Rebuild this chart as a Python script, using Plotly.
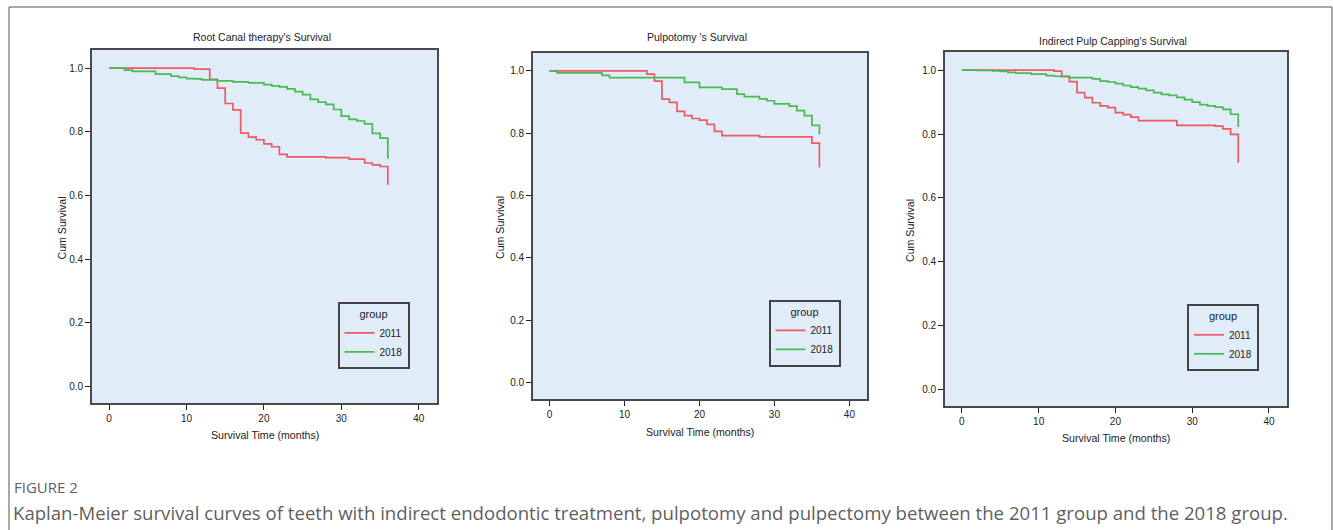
import plotly.graph_objects as go

W, H = 1333, 530

# ---------------- data ----------------
panel_titles = ["Root Canal therapy's Survival", "Pulpotomy 's Survival", "Indirect Pulp Capping's Survival"]
group_labels = ["2011", "2018"]
x_ticks = [0, 10, 20, 30, 40]
y_ticks = [0.0, 0.2, 0.4, 0.6, 0.8, 1.0]

rct_2011_months = [0, 11, 13, 14, 15, 16, 17, 18, 19, 20, 21, 22, 23, 28, 31, 33, 34, 35, 36]
rct_2011_surv = [1.0, 0.997, 0.965, 0.937, 0.889, 0.869, 0.796, 0.783, 0.775, 0.762, 0.753, 0.729, 0.721,
                 0.719, 0.714, 0.702, 0.696, 0.691, 0.634]
rct_2018_months = [0, 2, 3, 6, 8, 9, 10, 11, 12, 14, 16, 18, 20, 21, 22, 23, 24, 25, 26, 27, 28, 29, 30,
                   31, 32, 33, 34, 35, 36]
rct_2018_surv = [1.0, 0.994, 0.990, 0.981, 0.975, 0.971, 0.967, 0.966, 0.963, 0.960, 0.957, 0.954, 0.948,
                 0.944, 0.941, 0.935, 0.926, 0.917, 0.902, 0.893, 0.886, 0.870, 0.849, 0.839, 0.834, 0.825,
                 0.795, 0.780, 0.715]

pulp_2011_months = [0, 13, 14, 15, 16, 17, 18, 19, 20, 21, 22, 23, 28, 35, 36]
pulp_2011_surv = [1.0, 0.989, 0.967, 0.909, 0.899, 0.870, 0.856, 0.847, 0.842, 0.828, 0.806, 0.792, 0.788,
                  0.768, 0.690]
pulp_2018_months = [0, 1, 7, 8, 18, 20, 23, 25, 26, 28, 29, 30, 32, 33, 34, 35, 36]
pulp_2018_surv = [1.0, 0.993, 0.985, 0.978, 0.963, 0.947, 0.941, 0.925, 0.917, 0.910, 0.904, 0.894, 0.887,
                  0.872, 0.856, 0.825, 0.796]

ipc_2011_months = [0, 12, 13, 14, 15, 16, 17, 18, 19, 20, 21, 22, 23, 28, 33, 34, 35, 36]
ipc_2011_surv = [1.0, 0.997, 0.980, 0.964, 0.930, 0.914, 0.898, 0.888, 0.883, 0.867, 0.861, 0.853, 0.842,
                 0.827, 0.825, 0.816, 0.799, 0.710]
ipc_2018_months = [0, 2, 4, 5, 6, 7, 9, 11, 12, 14, 17, 18, 19, 20, 21, 22, 23, 24, 25, 26, 27, 28, 29, 30,
                   31, 32, 33, 34, 35, 36]
ipc_2018_surv = [1.0, 0.999, 0.998, 0.996, 0.993, 0.991, 0.988, 0.983, 0.981, 0.977, 0.973, 0.966, 0.963,
                 0.958, 0.952, 0.947, 0.942, 0.937, 0.930, 0.924, 0.921, 0.915, 0.908, 0.900, 0.892, 0.888,
                 0.884, 0.877, 0.862, 0.822]

figure_label = "FIGURE 2"
caption = ("Kaplan-Meier survival curves of teeth with indirect endodontic treatment, pulpotomy and "
           "pulpectomy between the 2011 group and the 2018 group.")

# ---------------- layout (pixel boxes of each plot area) ----------------
# (left, right, top, bottom) in pixels
boxes = [(92, 437, 50, 403), (533, 867, 53, 399), (945, 1287, 52, 406)]
title_y = [37, 37, 41]
xtitle_y = [435, 432, 438]
ytitle_x = [62, 500, 910]
legend_center = [(371.5, 334), (802.5, 331.5), (1221, 336)]
LEG_W, LEG_H = 68, 64

RED = "#ec5a62"
GREEN = "#48ba51"
BG = "#e1ecf9"
FONT = "Liberation Sans, Arial, sans-serif"


def px_x(p):
    return p / W


def px_y(p):
    return 1 - p / H


series = [
    [(rct_2011_months, rct_2011_surv), (rct_2018_months, rct_2018_surv)],
    [(pulp_2011_months, pulp_2011_surv), (pulp_2018_months, pulp_2018_surv)],
    [(ipc_2011_months, ipc_2011_surv), (ipc_2018_months, ipc_2018_surv)],
]

fig = go.Figure()
annotations = []
layout_axes = {}

for i, (box, data) in enumerate(zip(boxes, series)):
    n = "" if i == 0 else str(i + 1)
    legend_name = "legend" if i == 0 else f"legend{i + 1}"
    for (months, surv), label, color in zip(data, group_labels, [RED, GREEN]):
        fig.add_trace(go.Scatter(
            x=months, y=surv, mode="lines", line_shape="hv",
            line=dict(color=color, width=1.7), name=label,
            xaxis="x" + n, yaxis="y" + n, legend=legend_name,
        ))
    l, r, t, b = box
    layout_axes["xaxis" + n] = dict(
        domain=[px_x(l), px_x(r)], anchor="y" + n, range=[-2.2, 42.35],
        tickvals=x_ticks, ticks="outside", ticklen=5, tickwidth=1, tickcolor="#222",
        showline=True, linecolor="#4a4a4a", linewidth=1.8, mirror=True,
        showgrid=False, zeroline=False,
        tickfont=dict(family=FONT, size=10, color="#222"),
    )
    layout_axes["yaxis" + n] = dict(
        domain=[px_y(b), px_y(t)], anchor="x" + n, range=[-0.052, 1.057],
        tickvals=y_ticks, tickformat=".1f", ticks="outside", ticklen=5, tickwidth=1, tickcolor="#222",
        showline=True, linecolor="#4a4a4a", linewidth=1.8, mirror=True,
        showgrid=False, zeroline=False,
        tickfont=dict(family=FONT, size=10, color="#222"),
    )
    cx = (l + r) / 2
    annotations.append(dict(text=panel_titles[i], x=px_x(cx - 3), y=px_y(title_y[i]), xref="paper",
                            yref="paper", showarrow=False, xanchor="center", yanchor="middle",
                            font=dict(family=FONT, size=10.5, color="#222")))
    annotations.append(dict(text="Survival Time (months)", x=px_x(cx), y=px_y(xtitle_y[i]), xref="paper",
                            yref="paper", showarrow=False, xanchor="center", yanchor="middle",
                            font=dict(family=FONT, size=10.6, color="#222")))
    annotations.append(dict(text="Cum Survival", x=px_x(ytitle_x[i]), y=px_y((t + b) / 2 + 2), xref="paper",
                            yref="paper", showarrow=False, xanchor="center", yanchor="middle", textangle=-90,
                            font=dict(family=FONT, size=10.6, color="#222")))
    lcx, lcy = legend_center[i]
    layout_axes[legend_name] = dict(
        x=px_x(lcx - LEG_W / 2), y=px_y(lcy - LEG_H / 2), xanchor="left", yanchor="top",
        xref="paper", yref="paper",
        bgcolor="rgba(0,0,0,0)", bordercolor="#444", borderwidth=2,
        title=dict(text="group", side="top center", font=dict(family=FONT, size=11, color="#222")),
        font=dict(family=FONT, size=10, color="#222"), itemwidth=30, tracegroupgap=0,
    )

annotations.append(dict(text=figure_label, x=px_x(12), y=px_y(487), xref="paper", yref="paper",
                        showarrow=False, xanchor="left", yanchor="middle",
                        font=dict(family="Open Sans, sans-serif", size=15, color="#5f5f5f")))
annotations.append(dict(text=caption, x=px_x(11), y=px_y(512), xref="paper", yref="paper",
                        showarrow=False, xanchor="left", yanchor="middle",
                        font=dict(family="Open Sans, sans-serif", size=18.6, color="#5f5f5f")))

fig.update_layout(
    width=W, height=H, margin=dict(l=0, r=0, t=0, b=0),
    paper_bgcolor="white", plot_bgcolor=BG, showlegend=True,
    annotations=annotations,
    shapes=[dict(type="rect", xref="paper", yref="paper", x0=px_x(9), x1=px_x(1332), y0=-0.05,
                 y1=px_y(7), line=dict(color="#555", width=1), layer="below")],
    **layout_axes,
)

fig.write_html("out.html", config={"displayModeBar": False},
               post_script="document.body.style.margin='0';")
